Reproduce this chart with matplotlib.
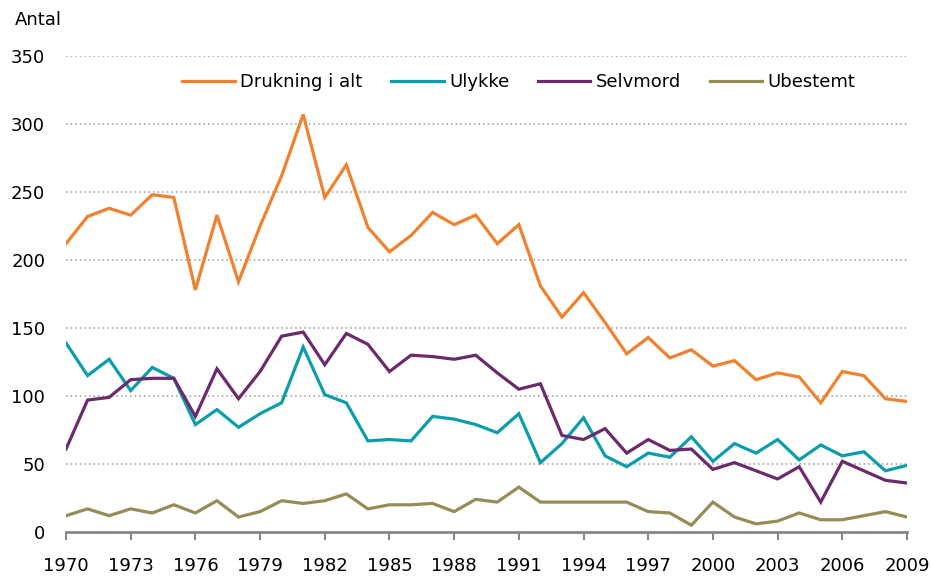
import matplotlib
matplotlib.use("Agg")
import matplotlib.pyplot as plt

years = list(range(1970, 2010))
drukning = [212, 232, 238, 233, 248, 246, 178, 233, 184, 225, 262, 307, 246, 270, 224, 206,
            218, 235, 226, 233, 212, 226, 181, 158, 176, 154, 131, 143, 128, 134, 122, 126,
            112, 117, 114, 95, 118, 115, 98, 96]
ulykke = [139, 115, 127, 104, 121, 113, 79, 90, 77, 87, 95, 136, 101, 95, 67, 68,
          67, 85, 83, 79, 73, 87, 51, 65, 84, 56, 48, 58, 55, 70, 52, 65,
          58, 68, 53, 64, 56, 59, 45, 49]
selvmord = [61, 97, 99, 112, 113, 113, 85, 120, 98, 118, 144, 147, 123, 146, 138, 118,
            130, 129, 127, 130, 117, 105, 109, 71, 68, 76, 58, 68, 60, 61, 46, 51,
            45, 39, 48, 22, 52, 45, 38, 36]
ubestemt = [12, 17, 12, 17, 14, 20, 14, 23, 11, 15, 23, 21, 23, 28, 17, 20,
            20, 21, 15, 24, 22, 33, 22, 22, 22, 22, 22, 15, 14, 5, 22, 11,
            6, 8, 14, 9, 9, 12, 15, 11]
series_names = ["Drukning i alt", "Ulykke", "Selvmord", "Ubestemt"]
colors = ["#F0822F", "#0C9DAA", "#6B2A6B", "#968C56"]
xticks = [1970, 1973, 1976, 1979, 1982, 1985, 1988, 1991, 1994, 1997, 2000, 2003, 2006, 2009]
yticks = [0, 50, 100, 150, 200, 250, 300, 350]

plt.rcParams['font.family'] = ['DejaVu Sans']
fs = 13
fig = plt.figure(figsize=(9.32, 5.77), dpi=100)
ax = fig.add_axes([66/932, 1-532/577, (907-66)/932, (532-56)/577])

for data, name, c in zip([drukning, ulykke, selvmord, ubestemt], series_names, colors):
    ax.plot(years, data, color=c, lw=2.3, label=name, solid_joinstyle='miter', zorder=3)

ax.set_xlim(1970, 2009)
ax.set_ylim(0, 350)
ax.set_xticks(xticks)
ax.set_yticks(yticks)
ax.tick_params(axis='x', length=6, width=1.5, color='#888888', labelsize=fs, pad=12, direction='out')
ax.tick_params(axis='y', length=0, labelsize=fs, pad=15)
for t in ax.get_yticklabels():
    t.set_horizontalalignment('right')
for y in yticks[1:]:
    ax.axhline(y, color='#999999', lw=1.1, ls=(0, (1, 2)), zorder=1)
for s in ['top', 'right', 'left']:
    ax.spines[s].set_visible(False)
ax.spines['bottom'].set_color('#888888')
ax.spines['bottom'].set_linewidth(2)

fig.text(15/932, 1-20/577, "Antal", fontsize=fs, va='center', ha='left')

ax.legend(loc='upper left', bbox_to_anchor=(109/841, 1-10/476), ncol=4, frameon=False,
          fontsize=fs, handlelength=2.9, handletextpad=0.3, columnspacing=1.6, borderaxespad=0)

fig.savefig("out.png", dpi=100)
